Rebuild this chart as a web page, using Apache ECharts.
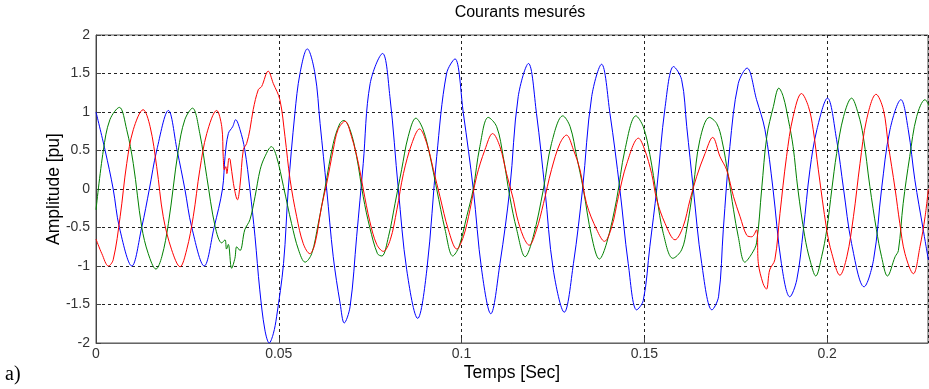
<!DOCTYPE html>
<html>
<head>
<meta charset="utf-8">
<script src="https://cdn.jsdelivr.net/npm/echarts@6/dist/echarts.min.js"></script>
<style>
  html, body { margin: 0; padding: 0; background: #fff; }
  #main { width: 929px; height: 389px; }
</style>
</head>
<body>
<div id="main"></div>
<script>
const phaseBleue = [
  [0, 1.0], [0.0025, 0.5], [0.0047, 0], [0.0064, -0.5], [0.0098, -1.0], [0.0125, -0.5],
  [0.0146, 0], [0.0166, 0.5], [0.0198, 1.02], [0.0222, 0.5], [0.0243, 0], [0.0262, -0.5],
  [0.0296, -1.0], [0.0323, -0.5], [0.0346, 0], [0.0353, 0.42], [0.0362, 0.72], [0.0374, 0.81],
  [0.0382, 0.9], [0.0394, 0.77], [0.0407, 0.51], [0.0421, 0], [0.0435, -0.62], [0.0448, -1.31],
  [0.0462, -1.83], [0.0474, -2.0], [0.0485, -1.88], [0.0494, -1.66], [0.0513, -0.97], [0.0526, 0],
  [0.0544, 0.98], [0.0558, 1.5], [0.0578, 1.82], [0.0599, 1.5], [0.0613, 0.85], [0.0631, 0],
  [0.0649, -0.88], [0.0668, -1.49], [0.0679, -1.74], [0.0695, -1.53], [0.0713, -0.62], [0.0731, 0.33],
  [0.0750, 1.37], [0.0784, 1.76], [0.0804, 1.2], [0.0827, 0], [0.0850, -1.05], [0.0880, -1.68],
  [0.0905, -1.05], [0.0932, 0.42], [0.0959, 1.5], [0.0982, 1.69], [0.1005, 0.98], [0.1032, 0],
  [0.1055, -1.05], [0.1080, -1.62], [0.1105, -0.97], [0.1132, 0], [0.1155, 1.2], [0.1183, 1.63],
  [0.1205, 0.98], [0.1228, 0], [0.1251, -1.05], [0.1281, -1.6], [0.1306, -0.97], [0.1331, 0],
  [0.1356, 1.2], [0.1383, 1.62], [0.1406, 0.98], [0.1433, 0], [0.1456, -0.97], [0.1479, -1.57],
  [0.1497, -1.45], [0.1515, -0.75], [0.1534, 0], [0.1557, 1.07], [0.1580, 1.59], [0.1602, 1.42],
  [0.1616, 0.81], [0.1634, 0], [0.1657, -0.97], [0.1685, -1.57], [0.1703, -1.4], [0.1716, -0.53],
  [0.1734, 0.55], [0.1757, 1.37], [0.1781, 1.57], [0.1807, 1.16], [0.1830, 0.77], [0.1852, 0],
  [0.1875, -0.97], [0.1898, -1.4], [0.1917, -1.18], [0.1935, -0.53], [0.1953, 0.25], [0.1972, 0.77],
  [0.2001, 1.18], [0.2026, 0.64], [0.2045, 0], [0.2067, -0.71], [0.2101, -1.27], [0.2127, -0.92],
  [0.2149, 0], [0.2172, 0.77], [0.2202, 1.16], [0.2222, 0.77], [0.2240, 0.12], [0.2263, -0.53],
  [0.2277, -0.92]
];

const phaseVerte = [
  [0, -0.27], [0.0020, 0.5], [0.0038, 0.9], [0.0064, 1.06], [0.0084, 0.77], [0.0102, 0.33],
  [0.0125, -0.49], [0.0143, -0.84], [0.0164, -1.04], [0.0180, -0.88], [0.0198, -0.45], [0.0225, 0.5],
  [0.0243, 0.9], [0.0264, 1.05], [0.0284, 0.72], [0.0303, 0.16], [0.0326, -0.49], [0.0344, -0.7],
  [0.0353, -0.66], [0.0357, -0.78], [0.0362, -0.72], [0.0371, -1.03], [0.0380, -0.9], [0.0385, -0.75],
  [0.0394, -0.8], [0.0407, -0.53], [0.0421, -0.4], [0.0435, -0.1], [0.0449, 0.25], [0.0462, 0.42],
  [0.0480, 0.55], [0.0494, 0.42], [0.0513, 0.03], [0.0535, -0.45], [0.0554, -0.79], [0.0572, -0.95],
  [0.0590, -0.84], [0.0608, -0.45], [0.0626, 0], [0.0649, 0.59], [0.0667, 0.85], [0.0678, 0.89],
  [0.0695, 0.77], [0.0713, 0.42], [0.0731, -0.1], [0.0749, -0.5], [0.0770, -0.84], [0.0782, -0.87],
  [0.0800, -0.62], [0.0818, -0.19], [0.0836, 0.25], [0.0854, 0.68], [0.0875, 0.92], [0.0895, 0.77],
  [0.0914, 0.42], [0.0932, 0], [0.0955, -0.53], [0.0976, -0.87], [0.0993, -0.75], [0.1014, -0.36],
  [0.1032, 0], [0.1050, 0.55], [0.1073, 0.93], [0.1096, 0.81], [0.1114, 0.42], [0.1132, -0.1],
  [0.1151, -0.53], [0.1174, -0.88], [0.1196, -0.62], [0.1224, 0], [0.1246, 0.59], [0.1277, 0.95],
  [0.1297, 0.81], [0.1315, 0.42], [0.1333, 0], [0.1356, -0.62], [0.1377, -0.91], [0.1397, -0.7],
  [0.1424, -0.14], [0.1447, 0.51], [0.1477, 0.95], [0.1497, 0.81], [0.1515, 0.45], [0.1534, -0.1],
  [0.1552, -0.58], [0.1578, -0.9], [0.1602, -0.79], [0.1616, -0.52], [0.1634, 0.03], [0.1652, 0.64],
  [0.1678, 0.93], [0.1698, 0.85], [0.1712, 0.64], [0.1730, 0.16], [0.1744, -0.27], [0.1757, -0.62],
  [0.1775, -0.95], [0.1794, -0.84], [0.1807, -0.7], [0.1821, 0], [0.1835, 0.68], [0.1853, 1.07],
  [0.1868, 1.31], [0.1880, 1.2], [0.1894, 0.9], [0.1907, 0.55], [0.1920, 0], [0.1939, -0.62],
  [0.1953, -0.92], [0.1969, -1.13], [0.1985, -0.88], [0.1999, -0.53], [0.2013, 0], [0.2026, 0.46],
  [0.2045, 0.94], [0.2067, 1.18], [0.2085, 0.98], [0.2099, 0.68], [0.2117, 0.03], [0.2135, -0.53],
  [0.2149, -0.88], [0.2165, -1.13], [0.2186, -0.88], [0.2195, -0.8], [0.2208, -0.19], [0.2226, 0.42],
  [0.2245, 0.94], [0.2268, 1.16], [0.2279, 1.08]
];

const phaseRouge = [
  [0, -0.65], [0.0016, -0.84], [0.0034, -1.0], [0.0047, -0.92], [0.0066, -0.36], [0.0084, 0.33],
  [0.0102, 0.77], [0.0129, 1.03], [0.0148, 0.81], [0.0166, 0.29], [0.0184, -0.36], [0.0207, -0.79],
  [0.0230, -1.01], [0.0248, -0.79], [0.0266, -0.36], [0.0284, 0.25], [0.0303, 0.72], [0.0330, 1.02],
  [0.0344, 0.81], [0.0348, 0.42], [0.0351, 0.25], [0.0355, 0.29], [0.0358, 0.2], [0.0364, 0.4],
  [0.0367, 0.38], [0.0376, 0.07], [0.0387, -0.14], [0.0394, 0.05], [0.0403, 0.51], [0.0412, 0.59],
  [0.0421, 0.77], [0.0430, 1.03], [0.0444, 1.29], [0.0453, 1.33], [0.0471, 1.53], [0.0485, 1.37],
  [0.0503, 1.16], [0.0517, 0.68], [0.0531, 0.12], [0.0549, -0.36], [0.0567, -0.71], [0.0585, -0.84],
  [0.0599, -0.71], [0.0617, -0.23], [0.0631, 0.07], [0.0649, 0.51], [0.0662, 0.77], [0.0681, 0.88],
  [0.0699, 0.68], [0.0718, 0.33], [0.0731, 0], [0.0749, -0.42], [0.0768, -0.72], [0.0786, -0.81],
  [0.0805, -0.66], [0.0823, -0.27], [0.0841, 0.2], [0.0864, 0.59], [0.0885, 0.78], [0.0905, 0.59],
  [0.0923, 0.25], [0.0941, -0.1], [0.0964, -0.53], [0.0987, -0.78], [0.1005, -0.62], [0.1023, -0.27],
  [0.1041, 0.16], [0.1064, 0.51], [0.1085, 0.72], [0.1105, 0.55], [0.1123, 0.2], [0.1142, -0.14],
  [0.1151, -0.35], [0.1169, -0.62], [0.1185, -0.73], [0.1205, -0.53], [0.1224, -0.19], [0.1246, 0.25],
  [0.1269, 0.59], [0.1287, 0.7], [0.1306, 0.51], [0.1324, 0.25], [0.1342, -0.19], [0.1370, -0.53],
  [0.1391, -0.68], [0.1411, -0.49], [0.1429, -0.1], [0.1452, 0.33], [0.1484, 0.66], [0.1501, 0.51],
  [0.1520, 0.2], [0.1534, -0.14], [0.1557, -0.45], [0.1584, -0.66], [0.1606, -0.49], [0.1625, -0.14],
  [0.1643, 0.16], [0.1666, 0.46], [0.1687, 0.67], [0.1707, 0.42], [0.1725, 0.25], [0.1744, -0.1],
  [0.1762, -0.36], [0.1780, -0.6], [0.1794, -0.62], [0.1807, -0.53], [0.1812, -0.97], [0.1825, -1.23],
  [0.1834, -1.3], [0.1843, -1.05], [0.1857, -0.92], [0.1871, -0.32], [0.1889, 0.42], [0.1907, 0.94],
  [0.1930, 1.24], [0.1949, 1.07], [0.1962, 0.77], [0.1976, 0.25], [0.1999, -0.53], [0.2013, -0.84],
  [0.2035, -1.12], [0.2054, -0.88], [0.2072, -0.36], [0.2090, 0.33], [0.2108, 0.9], [0.2134, 1.23],
  [0.2154, 1.03], [0.2167, 0.59], [0.2186, 0], [0.2199, -0.45], [0.2213, -0.84], [0.2236, -1.1],
  [0.2254, -0.75], [0.2268, -0.36], [0.2277, 0]
];

const xTicks = [0, 0.05, 0.1, 0.15, 0.2];
const yTicks = [-2, -1.5, -1, -0.5, 0, 0.5, 1, 1.5, 2];

var font = 'Liberation Sans, Arial, sans-serif';
var myChart = echarts.init(document.getElementById('main'));

function courbe(data, color) {
  return {
    type: 'line',
    data: data,
    showSymbol: false,
    smooth: 0.35,
    lineStyle: { color: color, width: 1 },
    itemStyle: { color: color }
  };
}

var option = {
  animation: false,
  backgroundColor: '#fff',
  title: {
    text: 'Courants mesurés',
    left: 515,
    textAlign: 'center',
    top: 0,
    textStyle: { fontFamily: font, fontSize: 16, fontWeight: 'normal', color: '#000' }
  },
  grid: {
    left: 96, right: 1, top: 35, bottom: 46,
    show: true, borderColor: '#555', borderWidth: 1, backgroundColor: '#fff'
  },
  xAxis: {
    type: 'value',
    min: xTicks[0],
    max: 0.2276,
    interval: 0.05,
    name: 'Temps [Sec]',
    nameLocation: 'middle',
    nameGap: 21,
    nameMoveOverlap: false,
    nameTextStyle: { fontFamily: font, fontSize: 17.5, color: '#000' },
    axisLine: { onZero: false, lineStyle: { color: '#666' } },
    axisTick: { inside: true, length: 5, lineStyle: { color: '#444' } },
    axisLabel: {
      fontFamily: font, fontSize: 14, color: '#333', margin: 4,
      showMaxLabel: false,
      formatter: function (v) { return xTicks.indexOf(+v.toFixed(2)) >= 0 ? String(+v.toFixed(2)) : ''; }
    },
    splitLine: { show: true, lineStyle: { color: '#222', type: [3, 3], width: 1 } }
  },
  yAxis: {
    type: 'value',
    min: yTicks[0],
    max: yTicks[yTicks.length - 1],
    interval: 0.5,
    name: 'Amplitude [pu]',
    nameLocation: 'middle',
    nameGap: 33,
    nameMoveOverlap: false,
    nameTextStyle: { fontFamily: font, fontSize: 17.5, color: '#000' },
    axisLine: { onZero: false, lineStyle: { color: '#444' } },
    axisTick: { inside: true, length: 5, lineStyle: { color: '#444' } },
    axisLabel: { fontFamily: font, fontSize: 14, color: '#333', margin: 6 },
    splitLine: { show: true, lineStyle: { color: '#222', type: [3, 3], width: 1 } }
  },
  graphic: [{
    type: 'text',
    left: 5,
    top: 365,
    style: { text: 'a)', font: '20px "Liberation Serif", "Times New Roman", serif', fill: '#000' }
  }],
  series: [
    courbe(phaseBleue, '#0000ff'),
    courbe(phaseVerte, '#008000'),
    courbe(phaseRouge, '#ff0000')
  ]
};

myChart.setOption(option);
</script>
</body>
</html>
